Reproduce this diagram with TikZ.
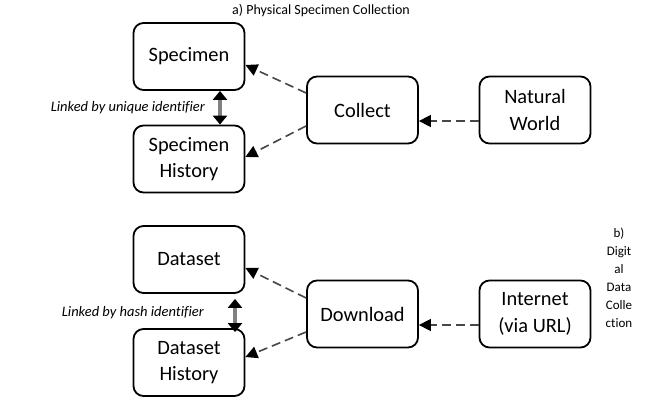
\documentclass[tikz,border=0pt]{standalone}
\usepackage{fontspec}
\setmainfont[Ligatures={NoCommon}]{Carlito}
\usetikzlibrary{arrows.meta}
\tikzset{
  x=1pt, y=1pt,
  box/.style={draw=black, line width=1.8pt, rounded corners=10pt, minimum width=111pt, minimum height=67pt, inner sep=0pt, align=center, font=\fontsize{20.4}{26.5}\selectfont},
  flow/.style={draw=black!72, line width=1.6pt, dash pattern=on 9pt off 5pt, -{Triangle[length=12pt,width=12pt,color=black]}},
  link/.style={draw=black!50, line width=4pt, {Triangle[length=9pt,width=14pt,color=black]}-{Triangle[length=9pt,width=14pt,color=black]}},
  note/.style={font=\fontsize{14.5}{16}\selectfont\itshape, inner sep=0pt},
  caption/.style={font=\fontsize{14}{18}\selectfont, inner sep=0pt, align=center}
}
\begin{document}
\begin{tikzpicture}
\fill[white] (0,0) rectangle (656,408);
\useasboundingbox (0,0) rectangle (656,408);

\node[caption] (titleA) at (321,397) {a) Physical Specimen Collection};
\node[caption, font=\fontsize{13}{18}\selectfont] (titleB) at (619,130) {b)\\Digit\\al\\Data\\Colle\\ction};

\node[box] (specimen) at (189,351.5) {Specimen};
\node[box] (spechist) at (189,249) {Specimen\\History};
\node[box] (collect) at (362.5,298) {Collect};
\node[box] (natural) at (535,298) {Natural\\World};

\node[box] (dataset) at (189,148.5) {Dataset};
\node[box] (datahist) at (189,45.5) {Dataset\\History};
\node[box] (download) at (362.5,94) {Download};
\node[box] (internet) at (535,94) {Internet\\(via URL)};

\node[note, anchor=east] (linkA) at (205,300) {Linked by unique identifier};
\node[note, anchor=east] (linkB) at (204,95) {Linked by hash identifier};

\draw[flow] ([yshift=-11pt]natural.west) -- ([yshift=-11pt]collect.east);
\draw[flow] ([yshift=17pt]collect.west) -- ([yshift=-8.5pt]specimen.east);
\draw[flow] ([yshift=-16pt]collect.west) -- ([yshift=2pt]spechist.east);

\draw[flow] ([yshift=-11pt]internet.west) -- ([yshift=-11pt]download.east);
\draw[flow] ([yshift=16pt]download.west) -- ([yshift=-8.5pt]dataset.east);
\draw[flow] ([yshift=-18pt]download.west) -- ([yshift=5.5pt]datahist.east);

\draw[link] ([xshift=31pt]specimen.south) -- ([xshift=31pt]spechist.north);
\draw[link] ([xshift=46pt,yshift=-5pt]dataset.south) -- ([xshift=46pt,yshift=-4pt]datahist.north);
\end{tikzpicture}
\end{document}
